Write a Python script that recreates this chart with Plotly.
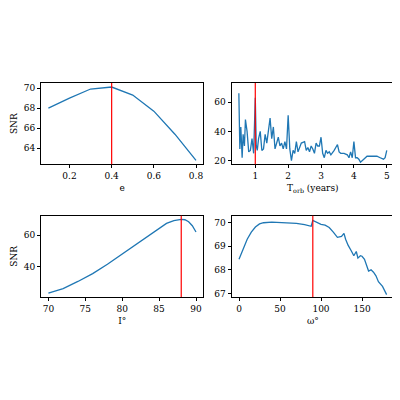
import plotly.graph_objects as go
from plotly.subplots import make_subplots

e_vals = [0.1, 0.2, 0.3, 0.4, 0.5, 0.6, 0.7, 0.8]
snr_e = [68.0, 69.0, 69.9, 70.1, 69.3, 67.7, 65.4, 62.8]

t_vals = [0.5, 0.53, 0.56, 0.6, 0.63, 0.67, 0.7, 0.75, 0.8, 0.85, 0.9, 0.95, 1.0, 1.03, 1.06, 1.1, 1.15, 1.2, 1.25, 1.3, 1.35, 1.4, 1.45, 1.5, 1.55, 1.6, 1.65, 1.7, 1.75, 1.8, 1.85, 1.9, 1.95, 2.0, 2.05, 2.1, 2.15, 2.2, 2.25, 2.3, 2.4, 2.5, 2.55, 2.6, 2.65, 2.7, 2.75, 2.8, 2.85, 2.9, 2.95, 3.0, 3.05, 3.1, 3.15, 3.2, 3.25, 3.3, 3.4, 3.5, 3.55, 3.6, 3.7, 3.8, 3.85, 3.9, 3.95, 4.0, 4.05, 4.1, 4.15, 4.2, 4.3, 4.4, 4.5, 4.6, 4.7, 4.8, 4.9, 4.95, 5.0]
snr_t = [66, 28, 43, 22, 38, 30, 48, 40, 26, 27, 35, 25, 63, 30, 27, 35, 40, 27, 28, 38, 32, 39, 49, 35, 43, 28, 32, 36, 30, 32, 28, 33, 28, 51, 28, 20, 27, 25, 33, 26, 32, 33, 27, 29, 26, 30, 28, 25, 32, 30, 30, 36, 25, 22, 27, 25, 26, 24, 27, 31, 26, 25, 25, 24, 22, 26, 22, 33, 22, 22, 21, 19, 21, 23, 23, 23, 23, 22, 21, 22, 27]

i_vals = [70, 72, 74, 76, 78, 80, 82, 84, 85, 86, 87, 88, 88.5, 89, 89.5, 90]
snr_i = [23, 26, 30.5, 35.5, 41.5, 48, 55, 61.5, 64.5, 67.5, 69.3, 70, 69.8, 68.5, 66, 62]

w_vals = [0, 5, 10, 15, 20, 25, 30, 40, 50, 60, 70, 80, 88, 90, 93, 96, 100, 105, 110, 115, 120, 125, 128, 130, 133, 137, 140, 143, 145, 148, 150, 153, 156, 158, 161, 164, 167, 170, 175, 180]
snr_w = [68.45, 68.9, 69.3, 69.6, 69.82, 69.95, 70.0, 70.03, 70.02, 70.0, 69.97, 69.92, 69.85, 70.1, 70.05, 69.98, 69.93, 69.9, 69.8, 69.6, 69.38, 69.42, 69.55, 69.3, 69.05, 68.8, 68.6, 68.78, 68.5, 68.6, 68.58, 68.45, 68.1, 67.95, 68.0, 67.9, 67.75, 67.5, 67.3, 66.95]

vlines = [0.4, 1.0, 88, 90]

fig = make_subplots(rows=2, cols=2, horizontal_spacing=0.08, vertical_spacing=0.24)
blue = "#1f77b4"
data = [(e_vals, snr_e, 1, 1), (t_vals, snr_t, 1, 2), (i_vals, snr_i, 2, 1), (w_vals, snr_w, 2, 2)]
for k, (x, y, r, c) in enumerate(data):
    fig.add_trace(go.Scatter(x=x, y=y, mode="lines", line=dict(color=blue, width=1.3), showlegend=False), row=r, col=c)
    fig.add_vline(x=vlines[k], line=dict(color="red", width=1.2), row=r, col=c)

ax = dict(showgrid=False, zeroline=False, showline=True, mirror=True, linecolor="black", linewidth=1,
          ticks="outside", ticklen=3, tickcolor="black", tickfont=dict(size=9, family="DejaVu Serif", color="black"))
fig.update_xaxes(**ax)
fig.update_yaxes(**ax)
tf = dict(size=9, family="DejaVu Serif", color="black")
fig.update_xaxes(title=dict(text="e", font=tf, standoff=4), range=[0.065, 0.835], tickvals=[0.2, 0.4, 0.6, 0.8], row=1, col=1)
fig.update_yaxes(title=dict(text="SNR", font=tf, standoff=4), range=[62.4, 70.5], tickvals=[64, 66, 68, 70], row=1, col=1)
fig.update_xaxes(title=dict(text="T<sub>orb</sub> (years)", font=tf, standoff=4), range=[0.28, 5.22], tickvals=[1, 2, 3, 4, 5], row=1, col=2)
fig.update_yaxes(range=[17.5, 73], tickvals=[20, 40, 60], row=1, col=2)
fig.update_xaxes(title=dict(text="I°", font=tf, standoff=4), range=[69, 91], tickvals=[70, 75, 80, 85, 90], row=2, col=1)
fig.update_yaxes(title=dict(text="SNR", font=tf, standoff=4), range=[20.6, 72.4], tickvals=[20, 40, 60], row=2, col=1)
fig.update_xaxes(title=dict(text="ω°", font=tf, standoff=4), range=[-9, 189], tickvals=[0, 50, 100, 150], row=2, col=2)
fig.update_yaxes(range=[66.85, 70.3], tickvals=[67, 68, 69, 70], row=2, col=2)

fig.update_layout(width=392, height=392, plot_bgcolor="white", paper_bgcolor="white",
                  margin=dict(l=25, r=5, t=75, b=103))
fig.write_html("out.html")
